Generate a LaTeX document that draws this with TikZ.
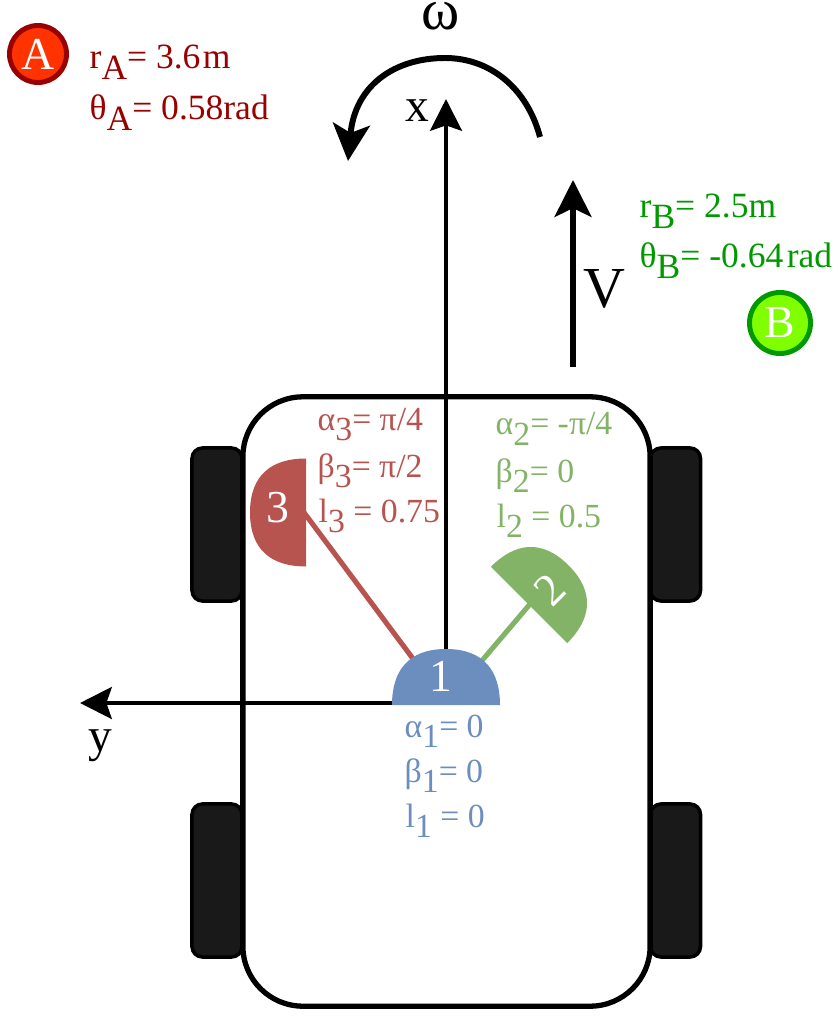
\documentclass[tikz,border=0pt]{standalone}
\usepackage{fontspec}
\setmainfont{Liberation Serif}
\usetikzlibrary{arrows.meta,backgrounds}
\definecolor{darkred}{HTML}{990000}
\definecolor{darkgreen}{HTML}{009900}
\definecolor{wheelred}{HTML}{B85450}
\definecolor{wheelgreen}{HTML}{82B366}
\definecolor{wheelblue}{HTML}{6C8EBF}
\definecolor{fillA}{HTML}{FF3300}
\definecolor{fillB}{HTML}{80FF00}
\newcommand{\lowsub}[1]{\raisebox{-3pt}{#1}}
\tikzset{
    tyre/.style={fill=black!90,draw=black,line width=1pt,rounded corners=3pt,minimum width=0.5cm,minimum height=1.53cm,inner sep=0pt},
    axisline/.style={black,line width=1.4pt,-{Stealth[length=9pt,width=9pt,inset=1.5pt]}},
    bigline/.style={black,line width=1.45pt,-{Stealth[length=10.5pt,width=10.5pt,inset=2.5pt]}},
    turnline/.style={bigline,line width=1.7pt},
    dome/.pic={
        \fill[pic actions] (-54,0) .. controls (-54,-34) and (-38,-56) .. (0,-56)
            .. controls (38,-56) and (54,-34) .. (54,0) -- cycle;
        \coordinate (-hub) at (0,-2);
    },
    spoke/.style={line width=1.45pt},
    params/.style={anchor=base west,inner sep=0pt,font=\fontsize{10.1}{12}\selectfont},
    castorparams/.style={anchor=base west,inner sep=0pt,font=\fontsize{9.6}{12}\selectfont},
    badge/.style={circle,line width=1.4pt,minimum size=0.57cm,inner sep=0pt,text=white,font=\fontsize{13}{15}\selectfont},
    numeral/.style={white,inner sep=0pt,font=\fontsize{13}{15}\selectfont},
    axisname/.style={anchor=base west,inner sep=0pt,font=\fontsize{13.5}{15}\selectfont},
    bigname/.style={anchor=base west,inner sep=0pt,font=\fontsize{16.5}{18}\selectfont}
}
\begin{document}
\begin{tikzpicture}[x=0.01cm,y=-0.01cm]
    \useasboundingbox (0,0) rectangle (833,1022);
    % tyres and body
    \node[tyre] (tyreFL) at (217,524.5) {};
    \node[tyre] (tyreFR) at (675.5,524.5) {};
    \node[tyre] (tyreRL) at (217,880.5) {};
    \node[tyre] (tyreRR) at (675.5,880.5) {};
    \node[draw,line width=1.5pt,rounded corners=0.6cm,minimum width=4.07cm,minimum height=6.09cm] (body) at (446.5,701.5) {};
    % castors
    \pic[fill=wheelblue] (castor1) at (446,705) {dome};
    \pic[fill=wheelgreen,rotate=-45] (castor2) at (529,605) {dome};
    \pic[fill=wheelred,rotate=90] (castor3) at (306,512.5) {dome};
    \node[numeral] (num1) at (441,676) {1};
    \node[numeral,rotate=45] (num2) at (550,590) {2};
    \node[numeral] (num3) at (278,508) {3};
    % free ends of the arrows
    \coordinate (xtip) at (446,99);
    \coordinate (ytip) at (80,703);
    \coordinate (vfoot) at (573,367);
    \coordinate (vtip) at (573,180);
    \coordinate (wstart) at (540,137);
    \coordinate (wtip) at (348,161);
    \begin{scope}[on background layer]
        \draw[axisline] (castor1-hub) -- (xtip);
        \draw[axisline] (castor1-hub) -- (ytip);
        \draw[spoke,wheelgreen] (castor1-hub) -- (castor2-hub);
        \draw[spoke,wheelred] (castor1-hub) -- (castor3-hub);
    \end{scope}
    \draw[bigline] (vfoot) -- (vtip);
    \draw[turnline] (wstart) .. controls (527,88) and (490,58) .. (445,58) .. controls (395,58) and (355,85) .. (wtip);
    % axis names
    \node[axisname] (xname) at (405,122) {x};
    \node[axisname] (yname) at (88,751) {y};
    \node[bigname] (omega) at (421,30) {ω};
    \node[bigname] (vname) at (583,308) {V};
    % points A and B
    \node[badge,draw=darkred,fill=fillA] (ptA) at (38,54) {A};
    \node[badge,draw=darkgreen,fill=fillB,minimum size=0.61cm] (ptB) at (780,323) {B};
    \node[params,darkred] (rA) at (89,69) {r\lowsub{A}= 3.6\hspace{0.7pt}m};
    \node[params,darkred] (thetaA) at (89,120) {θ\lowsub{A}= 0.58rad};
    \node[params,darkgreen] (rB) at (639,218) {r\lowsub{B}= 2.5m};
    \node[params,darkgreen] (thetaB) at (639,268) {θ\lowsub{B}= -0.64\hspace{1pt}rad};
    % castor parameters
    \node[castorparams,wheelred] (alpha3) at (317,430) {α\lowsub{3}= π/4};
    \node[castorparams,wheelred] (beta3) at (317,477) {β\lowsub{3}= π/2};
    \node[castorparams,wheelred] (ell3) at (318,522) {l\lowsub{3} = 0.75};
    \node[castorparams,wheelgreen] (alpha2) at (495,435) {α\lowsub{2}= -π/4};
    \node[castorparams,wheelgreen] (beta2) at (495,482) {β\lowsub{2}= 0};
    \node[castorparams,wheelgreen] (ell2) at (496,527) {l\lowsub{2} = 0.5};
    \node[castorparams,wheelblue] (alpha1) at (404,737) {α\lowsub{1}= 0};
    \node[castorparams,wheelblue] (beta1) at (404,782) {β\lowsub{1}= 0};
    \node[castorparams,wheelblue] (ell1) at (405,827) {l\lowsub{1} = 0};
\end{tikzpicture}
\end{document}
